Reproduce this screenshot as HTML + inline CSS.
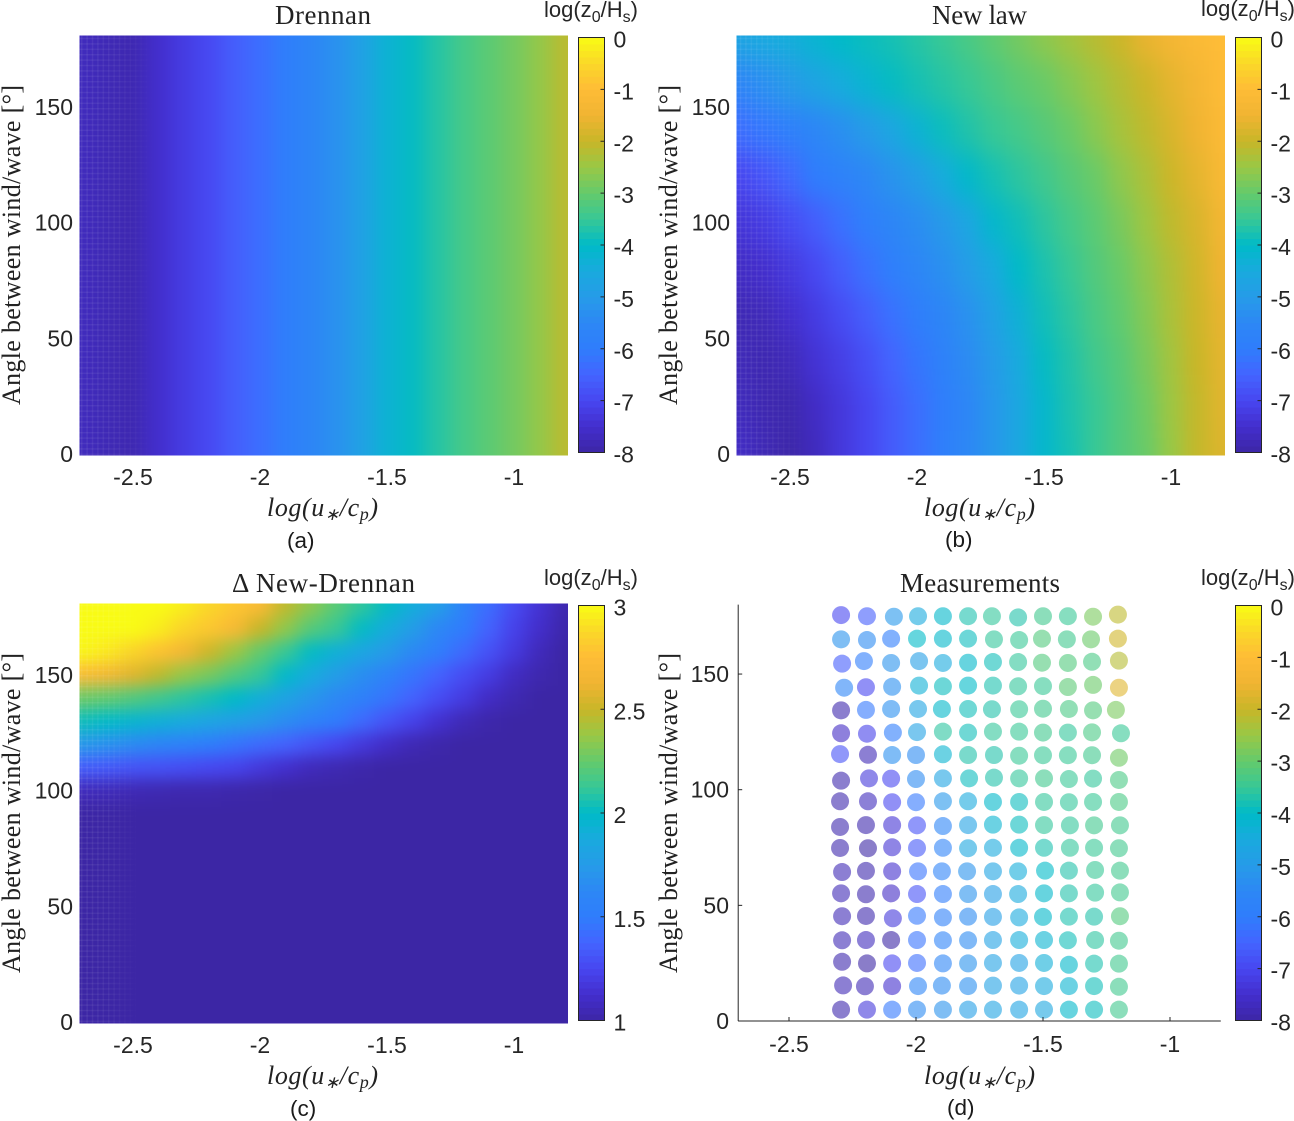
<!DOCTYPE html>
<html lang="en">
<head>
<meta charset="utf-8">
<title>Roughness length comparison</title>
<style>
html,body{margin:0;padding:0;background:#fff;}
svg{display:block;}
text{fill:#262626;font-family:"Liberation Sans",sans-serif;}
.serif{font-family:"Liberation Serif",serif;fill:#222;}
.tick{font-size:23px;}
.cbt{font-size:22px;}
.cap{font-size:22.5px;fill:#1a1a1a;}
</style>
</head>
<body>
<svg id="fig" xmlns="http://www.w3.org/2000/svg" width="1294" height="1121" viewBox="0 0 1294 1121">
  <defs>
    <filter id="blurX" filterUnits="userSpaceOnUse" x="-100" y="-100" width="1500" height="1400" color-interpolation-filters="sRGB"><feGaussianBlur stdDeviation="9 0"/></filter>
    <filter id="blurB" filterUnits="userSpaceOnUse" x="-100" y="-100" width="1500" height="1400" color-interpolation-filters="sRGB"><feGaussianBlur stdDeviation="9 14"/></filter>
    <filter id="blurC" filterUnits="userSpaceOnUse" x="-100" y="-100" width="1500" height="1400" color-interpolation-filters="sRGB"><feGaussianBlur stdDeviation="9 8"/></filter>
    <clipPath id="clipA"><rect x="79.5" y="35.5" width="488.5" height="420"/></clipPath>
    <clipPath id="clipB"><rect x="736.5" y="35.5" width="488.5" height="420"/></clipPath>
    <clipPath id="clipC"><rect x="79.5" y="603.5" width="488.5" height="420"/></clipPath>
    <pattern id="hatch" width="5.4" height="5.4" patternUnits="userSpaceOnUse">
      <rect x="0" y="0" width="5.4" height="1.4" fill="#fff" fill-opacity="0.07"/>
      <rect x="0" y="0" width="1.4" height="5.4" fill="#fff" fill-opacity="0.07"/>
    </pattern>
    <linearGradient id="fadeGrad" x1="0" y1="0" x2="1" y2="0">
      <stop offset="0" stop-color="#fff"/>
      <stop offset="0.5" stop-color="#fff" stop-opacity="0.7"/>
      <stop offset="1" stop-color="#fff" stop-opacity="0"/>
    </linearGradient>
    <mask id="fadeMask" maskContentUnits="objectBoundingBox"><rect x="0" y="0" width="1" height="1" fill="url(#fadeGrad)"/></mask>
  </defs>

  <g id="panel-a">
    <g id="heat-a" clip-path="url(#clipA)"></g>
    <rect x="79.5" y="35.5" width="75" height="420" fill="url(#hatch)" mask="url(#fadeMask)"/>
    <text class="serif" x="275" y="24" font-size="27" textLength="96" lengthAdjust="spacing">Drennan</text>
    <text class="serif" transform="translate(20,405) rotate(-90)" font-size="26" textLength="320" lengthAdjust="spacing">Angle between wind/wave [°]</text>
    <text class="serif" x="267" y="516" font-size="26" font-style="italic" textLength="111" lengthAdjust="spacing">log(u<tspan font-size="17" dy="4">∗</tspan><tspan dy="-4">/c</tspan><tspan font-size="18" dy="4">p</tspan><tspan dy="-4">)</tspan></text>
    <text class="cbt" x="544" y="17">log(z<tspan font-size="16" dy="5">0</tspan><tspan dy="-5">/H</tspan><tspan font-size="16" dy="5">s</tspan><tspan dy="-5">)</tspan></text>
    <text class="cap" x="287" y="548">(a)</text>
  </g>

  <g id="panel-b">
    <g id="heat-b" clip-path="url(#clipB)"></g>
    <rect x="736.5" y="35.5" width="70" height="420" fill="url(#hatch)" mask="url(#fadeMask)"/>
    <text class="serif" x="932" y="24" font-size="27" textLength="95" lengthAdjust="spacing">New law</text>
    <text class="serif" transform="translate(677,405) rotate(-90)" font-size="26" textLength="320" lengthAdjust="spacing">Angle between wind/wave [°]</text>
    <text class="serif" x="924" y="516" font-size="26" font-style="italic" textLength="111" lengthAdjust="spacing">log(u<tspan font-size="17" dy="4">∗</tspan><tspan dy="-4">/c</tspan><tspan font-size="18" dy="4">p</tspan><tspan dy="-4">)</tspan></text>
    <text class="cbt" x="1201" y="16">log(z<tspan font-size="16" dy="5">0</tspan><tspan dy="-5">/H</tspan><tspan font-size="16" dy="5">s</tspan><tspan dy="-5">)</tspan></text>
    <text class="cap" x="945" y="547">(b)</text>
  </g>

  <g id="panel-c">
    <g id="heat-c" clip-path="url(#clipC)"></g>
    <rect x="79.5" y="603.5" width="60" height="420" fill="url(#hatch)" mask="url(#fadeMask)"/>
    <text class="serif" x="232" y="592" font-size="27" textLength="183" lengthAdjust="spacing">Δ New-Drennan</text>
    <text class="serif" transform="translate(20,973) rotate(-90)" font-size="26" textLength="320" lengthAdjust="spacing">Angle between wind/wave [°]</text>
    <text class="serif" x="267" y="1084" font-size="26" font-style="italic" textLength="111" lengthAdjust="spacing">log(u<tspan font-size="17" dy="4">∗</tspan><tspan dy="-4">/c</tspan><tspan font-size="18" dy="4">p</tspan><tspan dy="-4">)</tspan></text>
    <text class="cbt" x="544" y="585">log(z<tspan font-size="16" dy="5">0</tspan><tspan dy="-5">/H</tspan><tspan font-size="16" dy="5">s</tspan><tspan dy="-5">)</tspan></text>
    <text class="cap" x="290" y="1116">(c)</text>
  </g>

  <g id="panel-d">
    <g id="dots-d"></g>
    <text class="serif" x="900" y="592" font-size="27" textLength="160" lengthAdjust="spacing">Measurements</text>
    <text class="serif" transform="translate(677,973) rotate(-90)" font-size="26" textLength="320" lengthAdjust="spacing">Angle between wind/wave [°]</text>
    <text class="serif" x="924" y="1084" font-size="26" font-style="italic" textLength="111" lengthAdjust="spacing">log(u<tspan font-size="17" dy="4">∗</tspan><tspan dy="-4">/c</tspan><tspan font-size="18" dy="4">p</tspan><tspan dy="-4">)</tspan></text>
    <text class="cbt" x="1201" y="585">log(z<tspan font-size="16" dy="5">0</tspan><tspan dy="-5">/H</tspan><tspan font-size="16" dy="5">s</tspan><tspan dy="-5">)</tspan></text>
    <text class="cap" x="947" y="1115">(d)</text>
  </g>
  <g id="axes-layer"></g>
</svg>

<script>
// ---- shared axis data ----
const xCols = [-2.7,-2.6,-2.5,-2.4,-2.3,-2.2,-2.1,-2.0,-1.9,-1.8,-1.7,-1.6,-1.5,-1.4,-1.3,-1.2,-1.1,-1.0,-0.9,-0.8];
const xTicks = [-2.5,-2,-1.5,-1];
const xTickLabels = ['-2.5','-2','-1.5','-1'];
const yTicks = [0,50,100,150];
const yTickLabels = ['0','50','100','150'];
const logBarTicks = [0,-1,-2,-3,-4,-5,-6,-7,-8];
const diffBarTicks = [1,1.5,2,2.5,3];
const diffBarTickLabels = ['1','1.5','2','2.5','3'];

// ---- panel (a) Drennan: depends on wave age only ----
const drennanZ = [-7.7,-7.8,-7.85,-7.5,-7.2,-6.95,-6.6,-6.3,-5.95,-5.6,-5.25,-4.8,-4.25,-3.95,-3.65,-3.35,-3.1,-2.85,-2.55,-2.15];

// ---- panel (b) New law ----
const newLawAngles = [180,160,140,120,100,80,60,40,20,0];
const newLawZ = [
 [-4.7,-4.55,-4.4,-4.2,-4,-3.9,-3.8,-3.65,-3.5,-3.3,-3.07,-2.85,-2.62,-2.4,-2.18,-1.95,-1.6,-1.35,-1.15,-1],
 [-5.6,-5.3,-5,-4.7,-4.45,-4.2,-3.95,-3.8,-3.65,-3.5,-3.3,-3.1,-2.95,-2.7,-2.45,-2.2,-1.95,-1.65,-1.35,-1.05],
 [-6.3,-6.1,-5.85,-5.55,-5.3,-5,-4.65,-4.25,-3.9,-3.7,-3.5,-3.35,-3.15,-2.95,-2.65,-2.35,-2.1,-1.8,-1.5,-1.1],
 [-7,-6.75,-6.4,-6,-5.75,-5.5,-5.2,-4.9,-4.45,-4.05,-3.8,-3.6,-3.4,-3.15,-2.95,-2.6,-2.3,-1.95,-1.65,-1.2],
 [-7.35,-7.2,-6.9,-6.6,-6.25,-5.9,-5.6,-5.35,-5.05,-4.65,-4.1,-3.85,-3.6,-3.35,-3.1,-2.8,-2.45,-2.1,-1.8,-1.4],
 [-7.6,-7.5,-7.25,-6.95,-6.6,-6.25,-5.9,-5.55,-5.3,-4.95,-4.5,-4,-3.75,-3.5,-3.2,-2.95,-2.6,-2.25,-1.9,-1.5],
 [-7.8,-7.75,-7.5,-7.2,-6.9,-6.6,-6.25,-5.95,-5.6,-5.25,-4.8,-4.3,-3.85,-3.6,-3.3,-3.05,-2.7,-2.3,-1.95,-1.6],
 [-7.75,-7.85,-7.75,-7.4,-7.15,-6.85,-6.5,-6.15,-5.8,-5.4,-5,-4.5,-3.95,-3.7,-3.4,-3.15,-2.8,-2.4,-2,-1.65],
 [-7.7,-7.85,-7.9,-7.6,-7.3,-7,-6.65,-6.3,-5.95,-5.55,-5.1,-4.6,-4.1,-3.75,-3.5,-3.2,-2.9,-2.45,-2.05,-1.7],
 [-7.6,-7.8,-7.95,-7.7,-7.3,-7,-6.65,-6.3,-5.9,-5.5,-5.1,-4.6,-4.1,-3.8,-3.5,-3.2,-2.95,-2.5,-2.05,-1.75]
];

// ---- panel (c) difference ----
const diffAngles = [180,170,160,150,140,130,120,110,100,90,45,0];
const diffZ = [
 [3,3,3,3,2.95,2.87,2.8,2.72,2.48,2.35,2.22,2.11,2.01,1.9,1.78,1.58,1.42,1.27,1.15,1.03],
 [3,3,3,2.95,2.86,2.8,2.7,2.5,2.36,2.21,2.13,2.01,1.89,1.77,1.62,1.5,1.37,1.23,1.12,1.02],
 [2.98,2.93,2.86,2.78,2.67,2.52,2.39,2.25,2.13,2.01,1.92,1.84,1.75,1.64,1.52,1.41,1.3,1.19,1.07,1],
 [2.73,2.67,2.58,2.48,2.37,2.3,2.2,2.12,1.99,1.88,1.77,1.67,1.57,1.46,1.37,1.28,1.2,1.09,1.03,1],
 [2.27,2.24,2.2,2.15,2.1,2.05,2,1.91,1.82,1.72,1.63,1.55,1.46,1.37,1.28,1.2,1.1,1.04,1,1],
 [2.03,2,1.96,1.92,1.88,1.83,1.79,1.74,1.66,1.58,1.5,1.41,1.31,1.23,1.14,1.06,1.02,1,1,1],
 [1.73,1.69,1.65,1.6,1.56,1.51,1.46,1.41,1.37,1.31,1.25,1.18,1.11,1.05,1.02,1,1,1,1,1],
 [1.35,1.33,1.31,1.3,1.28,1.26,1.24,1.18,1.13,1.07,1.04,1.02,1,1,1,1,1,1,1,1],
 [1.07,1.06,1.05,1.04,1.03,1.03,1.02,1.01,1,1,1,1,1,1,1,1,1,1,1,1],
 [1,1,1,1,1,1,1,1,1,1,1,1,1,1,1,1,1,1,1,1],
 [1,1,1,1,1,1,1,1,1,1,1,1,1,1,1,1,1,1,1,1],
 [1,1,1,1,1,1,1,1,1,1,1,1,1,1,1,1,1,1,1,1]
];

// ---- panel (d) measurements ----
const measuredX = [
 [-2.295,-2.193,-2.087,-1.992,-1.894,-1.795,-1.701,-1.598,-1.5,-1.402,-1.303,-1.205],
 [-2.295,-2.193,-2.098,-1.996,-1.894,-1.795,-1.693,-1.594,-1.504,-1.406,-1.311,-1.205],
 [-2.291,-2.205,-2.098,-1.988,-1.894,-1.795,-1.697,-1.598,-1.504,-1.402,-1.307,-1.201],
 [-2.283,-2.197,-2.094,-1.988,-1.894,-1.795,-1.697,-1.598,-1.5,-1.402,-1.303,-1.201],
 [-2.295,-2.197,-2.098,-1.992,-1.898,-1.795,-1.701,-1.594,-1.5,-1.398,-1.303,-1.213],
 [-2.295,-2.193,-2.091,-1.996,-1.894,-1.795,-1.697,-1.594,-1.5,-1.402,-1.307,-1.193],
 [-2.299,-2.189,-2.094,-2,-1.894,-1.795,-1.693,-1.594,-1.5,-1.402,-1.307,-1.201],
 [-2.295,-2.185,-2.098,-2,-1.894,-1.791,-1.693,-1.594,-1.496,-1.398,-1.303,-1.201],
 [-2.299,-2.189,-2.094,-2,-1.894,-1.795,-1.697,-1.594,-1.496,-1.398,-1.303,-1.201],
 [-2.299,-2.197,-2.094,-1.996,-1.894,-1.795,-1.697,-1.594,-1.496,-1.394,-1.299,-1.197],
 [-2.299,-2.189,-2.094,-1.996,-1.894,-1.795,-1.697,-1.594,-1.496,-1.394,-1.299,-1.201],
 [-2.291,-2.197,-2.094,-1.992,-1.898,-1.799,-1.697,-1.598,-1.492,-1.398,-1.295,-1.197],
 [-2.295,-2.197,-2.098,-1.996,-1.894,-1.795,-1.697,-1.598,-1.496,-1.398,-1.295,-1.197],
 [-2.291,-2.197,-2.091,-1.996,-1.894,-1.795,-1.697,-1.594,-1.5,-1.398,-1.299,-1.197],
 [-2.291,-2.197,-2.098,-1.996,-1.894,-1.795,-1.697,-1.594,-1.496,-1.402,-1.295,-1.201],
 [-2.291,-2.193,-2.094,-1.996,-1.894,-1.795,-1.697,-1.594,-1.496,-1.398,-1.299,-1.201],
 [-2.287,-2.201,-2.094,-1.992,-1.898,-1.795,-1.697,-1.594,-1.496,-1.398,-1.299,-1.201],
 [-2.295,-2.193,-2.094,-1.996,-1.894,-1.795,-1.697,-1.594,-1.496,-1.398,-1.299,-1.201]
];
const measuredAngle = [
 [175.5,175,174.8,175,175,175,175,174.5,175,175,174.8,175.7],
 [165,164.7,165.3,165.3,165.3,165.3,165,164.7,165.3,165,165,165.3],
 [154.5,155.6,154.8,155.6,154.8,154.9,155.2,155.2,154.9,154.8,155.3,155.8],
 [144.1,144.3,144.5,145,144.7,145,145,144.7,144.8,144.4,145.3,144.1],
 [134.3,134.5,134.9,134.9,134.9,134.9,134.8,134.8,135,134.9,134.3,134.5],
 [124.4,124.2,124.7,124.9,125.1,124.7,125.1,125.1,124.7,124.7,124.8,124.4],
 [115.4,115.1,115,115,115.3,115,115,114.7,114.9,114.9,114.9,113.8],
 [103.9,104.9,104.8,104.6,104.9,104.9,105.2,104.9,104.9,104.6,104.8,104.2],
 [95,95,94.6,94.6,95,95,94.7,94.7,94.7,94.6,94.7,94.7],
 [83.9,84.7,84.7,84.6,84.3,84.7,84.9,84.9,84.7,84.6,84.6,84.6],
 [74.8,74.7,75.1,74.8,74.9,74.7,74.9,74.9,74.9,74.9,74.9,74.7],
 [64.4,64.9,64.7,64.7,64.7,64.7,64.7,64.7,65,65,65.3,65],
 [55.2,54.8,55.2,54.9,54.9,54.9,54.9,54.9,55.2,55.2,55.5,55.6],
 [45.3,45.4,44.4,45.5,44.8,45.1,45,44.8,45,45.1,45.1,45.3],
 [34.9,35,35,35,34.9,34.9,35,35,35,34.9,35,34.7],
 [25.6,24.9,24.9,25.1,24.9,24.9,25.1,25.1,25.1,24.3,24.8,24.8],
 [15.4,15,15.1,15.1,15.3,15.1,15.3,15.3,15.1,15.1,15.1,14.8],
 [4.9,4.9,4.9,4.9,4.9,4.9,4.9,4.9,4.9,4.9,4.9,4.9]
];
const measuredZ = [
 [-7,-6.6,-5.1,-4.5,-4.05,-3.75,-3.55,-3.7,-3.4,-3.5,-2.8,-2.1],
 [-5.2,-5.4,-6,-4,-4.05,-3.9,-3.55,-3.5,-3.2,-3.4,-2.95,-1.9],
 [-6.6,-6,-5.2,-4.9,-4.5,-4.05,-3.85,-3.55,-3.2,-3.2,-3.3,-2.2],
 [-5.6,-7,-5.3,-4.3,-3.9,-4,-3.75,-3.55,-3.5,-3.1,-2.95,-1.7],
 [-7.9,-6.1,-5.3,-4.7,-4.05,-3.85,-3.7,-3.5,-3.4,-3.3,-3.2,-2.8],
 [-7.6,-7.1,-6,-4.8,-3.6,-3.85,-3.55,-3.5,-3.4,-3.55,-3.3,-3.5],
 [-6.8,-7.8,-5.3,-5.4,-4.2,-3.7,-3.7,-3.5,-3.5,-3.5,-3.4,-2.9],
 [-7.9,-7.3,-7,-5.4,-4.7,-3.9,-3.7,-3.55,-3.4,-3.5,-3.55,-3.3],
 [-7.9,-7.7,-7,-6.1,-5.1,-4.5,-4.05,-3.9,-3.55,-3.55,-3.5,-3.3],
 [-7.9,-7.9,-7.4,-6.8,-5.6,-4.8,-4.2,-3.9,-3.55,-3.55,-3.4,-3.4],
 [-7.9,-8,-7.4,-6.7,-5.7,-4.6,-4.5,-4.05,-3.75,-3.55,-3.5,-3.4],
 [-7.8,-7.9,-7.5,-6.2,-5.7,-5.2,-4.7,-4.4,-4,-3.7,-3.5,-3.4],
 [-7.8,-7.9,-7.6,-6.8,-6,-5.2,-4.9,-4.5,-4.05,-3.7,-3.55,-3.4],
 [-7.8,-7.9,-7.3,-6.1,-5.8,-5.4,-4.9,-4.5,-4.05,-3.75,-3.7,-3.2],
 [-7.8,-7.7,-8,-6.2,-5.7,-5.4,-4.8,-4.4,-4.2,-3.85,-3.6,-3.4],
 [-7.9,-8,-7,-6.3,-5.6,-5.2,-4.8,-4.8,-4.35,-4.05,-3.75,-3.4],
 [-7.8,-7.8,-7.5,-5.6,-5.4,-5.3,-4.8,-4.8,-4.5,-4.2,-3.85,-3.4],
 [-7.9,-7.3,-6.1,-5.4,-5.2,-4.9,-4.7,-4.7,-4.6,-4.05,-3.9,-3.4]
];

// ---- colormap ----
const cmapStops = [[60,38,165],[67,46,205],[71,70,240],[68,100,255],[47,125,252],[45,135,245],[38,155,232],[25,170,222],[0,186,200],[55,200,150],[100,202,108],[152,200,70],[200,182,40],[240,180,50],[254,188,55],[250,215,40],[249,251,21]];

function colorAt(v, lo, hi) {
  const t = Math.max(0, Math.min(1, (v - lo) / (hi - lo))) * (cmapStops.length - 1);
  const i = Math.min(cmapStops.length - 2, Math.floor(t));
  const f = t - i;
  const c = cmapStops[i].map((a, k) => Math.round(a + (cmapStops[i + 1][k] - a) * f));
  return 'rgb(' + c.join(',') + ')';
}

const SVG_NS = 'http://www.w3.org/2000/svg';
function mk(tag, parent) {
  const el = document.createElementNS(SVG_NS, tag);
  parent.appendChild(el);
  return el;
}
function setAll(el, attrs) {
  for (const k in attrs) el.setAttribute(k, attrs[k]);
}
const xAxis = dx => v => 260 + dx + (v + 2) * 254;
const yAxis = dy => v => 454 + dy - v * 2.313;
const OVER = 50;

function cellEdges(values, scale) {
  // pixel boundaries halfway between neighbouring data coordinates, edge cells overscanned
  const px = values.map(scale);
  const edges = [];
  for (let i = 0; i <= px.length; i++) {
    if (i === 0) edges.push(px[0] - (px[1] - px[0]) / 2 - Math.sign(px[1] - px[0]) * OVER);
    else if (i === px.length) edges.push(px[i - 1] + (px[i - 1] - px[i - 2]) / 2 + Math.sign(px[i - 1] - px[i - 2]) * OVER);
    else edges.push((px[i - 1] + px[i]) / 2);
  }
  return edges;
}

function heatmap(groupId, filterId, dx, dy, angles, rows, lo, hi, name) {
  const holder = document.getElementById(groupId);
  const g = mk('g', holder);
  g.setAttribute('filter', 'url(#' + filterId + ')');
  const xE = cellEdges(xCols, xAxis(dx));
  const yE = cellEdges(angles, yAxis(dy));
  rows.forEach((row, r) => {
    row.forEach((v, c) => {
      const cell = mk('rect', g);
      setAll(cell, {
        x: xE[c] - 0.3, y: yE[r] - 0.3,
        width: xE[c + 1] - xE[c] + 0.6, height: yE[r + 1] - yE[r] + 0.6,
        fill: colorAt(v, lo, hi)
      });
      
      
    });
  });
}

// panel a: one column per wave-age bin, full height
(function () {
  const holder = document.getElementById('heat-a');
  const g = mk('g', holder);
  g.setAttribute('filter', 'url(#blurX)');
  const xE = cellEdges(xCols, xAxis(0));
  const y = yAxis(0);
  drennanZ.forEach((v, c) => {
    const cell = mk('rect', g);
    setAll(cell, {
      x: xE[c] - 0.3, y: y(180) - OVER,
      width: xE[c + 1] - xE[c] + 0.6, height: y(0) - y(180) + 2 * OVER,
      fill: colorAt(v, -8, 0)
    });
    
    
  });
})();
heatmap('heat-b', 'blurB', 657, 0, newLawAngles, newLawZ, -8, 0, 'new-law');
heatmap('heat-c', 'blurC', 0, 568, diffAngles, diffZ, 1, 3, 'difference');

// panel d: scatter
(function () {
  const g = document.getElementById('dots-d');
  const x = xAxis(656), y = yAxis(567);
  measuredZ.forEach((row, r) => {
    row.forEach((v, c) => {
      const dot = mk('circle', g);
      setAll(dot, {
        cx: x(measuredX[r][c]), cy: y(measuredAngle[r][c]), r: 9,
        fill: colorAt(v, -8, 0), 'fill-opacity': 0.6
      });
      
      
    });
  });
})();

// axes, tick labels, colorbars
const layer = document.getElementById('axes-layer');
function tickLabels(dx, dy, panel) {
  const x = xAxis(dx), y = yAxis(dy);
  xTicks.forEach((v, i) => {
    const t = mk('text', layer);
    setAll(t, { x: x(v), y: 485 + dy, 'text-anchor': 'middle', class: 'tick' });
    t.textContent = xTickLabels[i];
    
    
  });
  yTicks.forEach((v, i) => {
    const t = mk('text', layer);
    setAll(t, { x: 73 + dx, y: y(v) + 8, 'text-anchor': 'end', class: 'tick' });
    t.textContent = yTickLabels[i];
    
    
  });
}
tickLabels(0, 0, 'drennan');
tickLabels(657, 0, 'new-law');
tickLabels(0, 568, 'difference');
tickLabels(656, 567, 'measurements');

// axis lines and ticks of the scatter panel
(function () {
  const x = xAxis(656), y = yAxis(567);
  const ink = '#262626';
  const left = mk('line', layer);
  setAll(left, { x1: x(-2.7), x2: x(-2.7), y1: y(180), y2: y(0), stroke: ink, 'stroke-width': 1 });
  
  
  const bottom = mk('line', layer);
  setAll(bottom, { x1: x(-2.7), x2: x(-0.8), y1: y(0), y2: y(0), stroke: ink, 'stroke-width': 1 });
  
  
  xTicks.forEach(v => {
    const t = mk('line', layer);
    setAll(t, { x1: x(v), x2: x(v), y1: y(0), y2: y(0) - 4, stroke: ink, 'stroke-width': 1 });
    
    
  });
  yTicks.forEach(v => {
    const t = mk('line', layer);
    setAll(t, { x1: x(-2.7), x2: x(-2.7) + 4, y1: y(v), y2: y(v), stroke: ink, 'stroke-width': 1 });
    
    
  });
})();

function colorbar(x0, y0, w, h, lo, hi, ticks, labels, panel) {
  const n = 64;
  const g = mk('g', layer);
  
  
  const yOf = v => y0 + h - (v - lo) / (hi - lo) * h;
  for (let i = 0; i < n; i++) {
    const v0 = lo + (hi - lo) * i / n, v1 = lo + (hi - lo) * (i + 1) / n;
    const band = mk('rect', g);
    setAll(band, { x: x0, y: yOf(v1), width: w, height: yOf(v0) - yOf(v1) + 0.5, fill: colorAt((v0 + v1) / 2, lo, hi) });
    
    
  }
  const frame = mk('rect', g);
  setAll(frame, { x: x0, y: y0, width: w, height: h, fill: 'none', stroke: '#262626', 'stroke-width': 1 });
  
  
  ticks.forEach((v, i) => {
    if (v !== lo && v !== hi) {
      const tk = mk('line', g);
      setAll(tk, { x1: x0 + w - 4, x2: x0 + w, y1: yOf(v), y2: yOf(v), stroke: '#262626', 'stroke-width': 1 });
      
      
    }
    const t = mk('text', g);
    setAll(t, { x: x0 + w + 9, y: yOf(v) + 10, class: 'tick' });
    t.textContent = labels[i];
    
    
  });
}
const logBarLabels = logBarTicks.map(String);
colorbar(578.5, 37.5, 26, 415, -8, 0, logBarTicks, logBarLabels, 'drennan');
colorbar(1235.5, 37.5, 26, 415, -8, 0, logBarTicks, logBarLabels, 'new-law');
colorbar(578.5, 605.5, 26, 415, 1, 3, diffBarTicks, diffBarTickLabels, 'difference');
colorbar(1235.5, 605.5, 26, 415, -8, 0, logBarTicks, logBarLabels, 'measurements');
</script>
</body>
</html>
